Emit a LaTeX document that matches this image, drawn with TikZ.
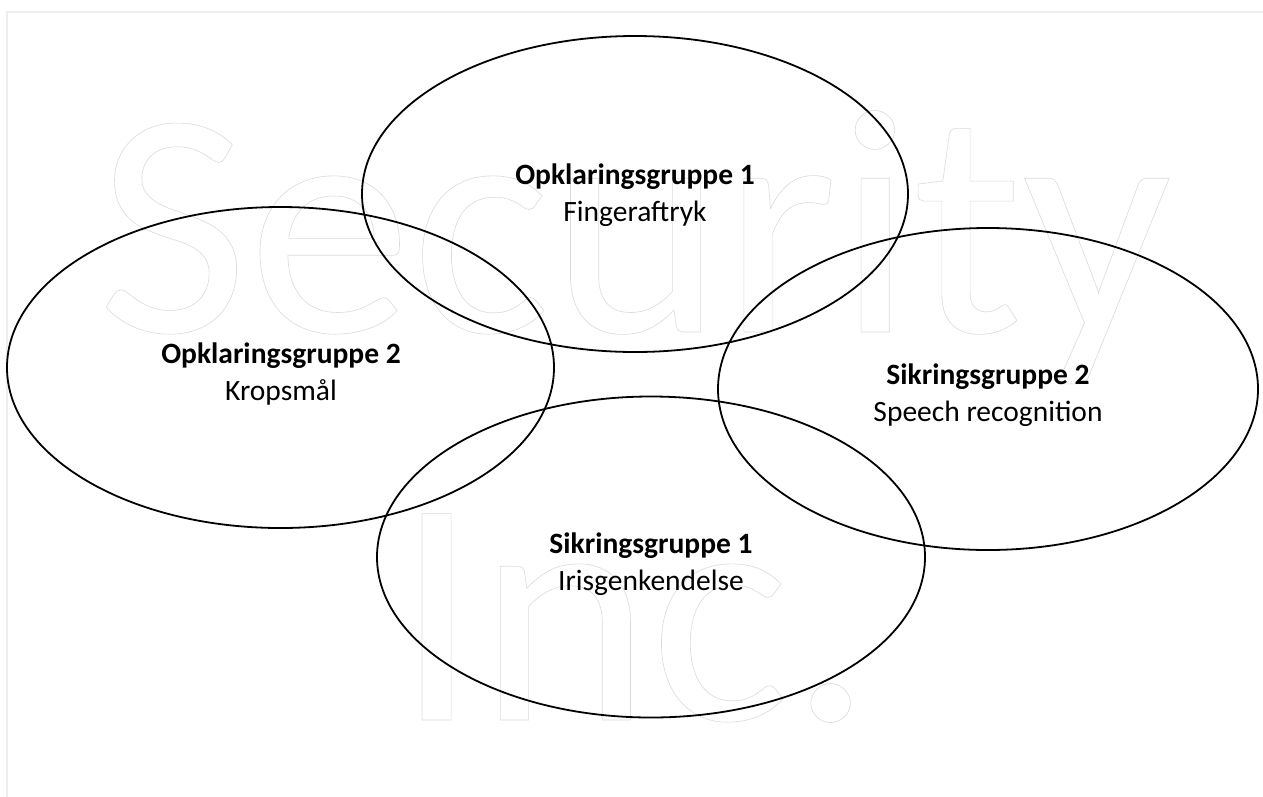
\documentclass[tikz,border=0pt]{standalone}
\usepackage{fontspec}
\setmainfont{Carlito}
\usetikzlibrary{shapes.geometric}
\newcommand{\outlinetext}[1]{\scalebox{1.02}[1]{\special{pdf:code q 1 Tr 0.86 G 0.6 w}#1\special{pdf:code Q}}}
\tikzset{
  grp/.style={ellipse, draw=black, line width=1.8pt, inner sep=0pt},
  lbl/.style={align=center, font=\fontsize{29.5}{37}\selectfont, inner sep=0pt},
  wm/.style={inner sep=0pt, font=\fontsize{322}{322}\selectfont},
}
\begin{document}
\begin{tikzpicture}[x=1pt,y=-1pt]
\useasboundingbox (0,0) rectangle (1263,796);
\fill[white] (0,0) rectangle (1263,796);
\draw[draw={rgb,255:red,238;green,238;blue,238}, line width=1.5pt] (7,812) -- (7,12) -- (1280,12);
% watermark
\node[wm, anchor=base west] (wm1) at (97,332) {\outlinetext{Security}};
\node[wm, anchor=base west] (wm2) at (395,720) {\outlinetext{Inc.}};
% ellipses
\node[grp, minimum width=546, minimum height=316] (e1) at (635,194) {};
\node[grp, minimum width=547, minimum height=321] (e2) at (280.5,367.5) {};
\node[grp, minimum width=540, minimum height=322] (e3) at (988,389) {};
\node[grp, minimum width=548, minimum height=321] (e4) at (651,557) {};
% labels
\node[lbl] (t1) at (635,195) {\textbf{Opklaringsgruppe 1}\\Fingeraftryk};
\node[lbl] (t2) at (281,374) {\textbf{Opklaringsgruppe 2}\\Kropsmål};
\node[lbl] (t3) at (988,395) {\textbf{Sikringsgruppe 2}\\Speech recognition};
\node[lbl] (t4) at (651,564) {\textbf{Sikringsgruppe 1}\\Irisgenkendelse};
\end{tikzpicture}
\end{document}
